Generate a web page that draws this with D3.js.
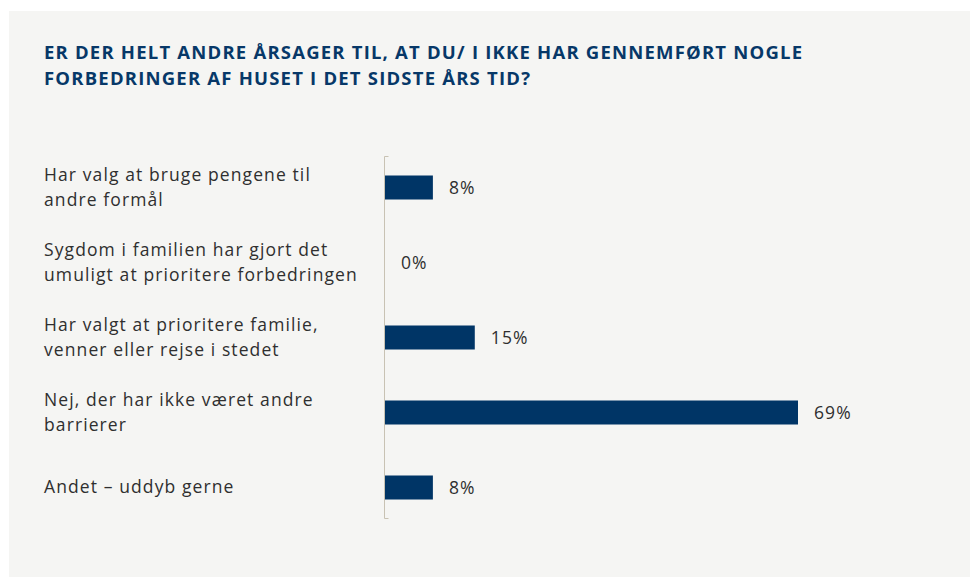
<!DOCTYPE html>
<html>
<head>
<meta charset="utf-8">
<script src="https://cdn.jsdelivr.net/npm/d3@7"></script>
<style>
  html, body { margin: 0; padding: 0; background: #ffffff; }
  svg { display: block; }
</style>
</head>
<body>
<svg id="chart" width="970" height="577"></svg>
<script>
const titleLines = [
  "ER DER HELT ANDRE ÅRSAGER TIL, AT DU/ I IKKE HAR GENNEMFØRT NOGLE",
  "FORBEDRINGER AF HUSET I DET SIDSTE ÅRS TID?"
];
const categories = [
  "Har valg at bruge pengene til|andre formål",
  "Sygdom i familien har gjort det|umuligt at prioritere forbedringen",
  "Har valgt at prioritere familie,|venner eller rejse i stedet",
  "Nej, der har ikke været andre|barrierer",
  "Andet – uddyb gerne"
];
const values = [8, 0, 15, 69, 8];
const valueLabels = ["8%", "0%", "15%", "69%", "8%"];

const svg = d3.select("#chart");
const W = 970, H = 577;

const navy = "#003566";
const textColor = "#2f2f2f";
const bodyFont = "'Open Sans', sans-serif";

// panel
svg.append("rect").attr("x", 9).attr("y", 11).attr("width", W - 9).attr("height", H - 11)
  .attr("fill", "#f5f5f3");

// title
const title = svg.append("text").attr("x", 44).attr("y", 59)
  .attr("fill", "#073868").attr("font-family", bodyFont)
  .attr("font-weight", 700).attr("font-size", 18.5).attr("letter-spacing", 1.2);
title.selectAll("tspan").data(titleLines).join("tspan")
  .attr("x", 44).attr("dy", (d, i) => i === 0 ? 0 : 26).text(d => d);

const x = d3.scaleLinear().domain([0, 69]).range([385, 798]);
const y = d3.scaleBand().domain(categories).range([150, 525]).paddingInner(0.68).paddingOuter(0.34);

// axis line
const axisTop = 156, axisBottom = 519;
svg.append("path")
  .attr("d", `M${x(0) + 3.5},${axisTop + 0.5}H${x(0) - 0.5}V${axisBottom - 0.5}H${x(0) + 3.5}`)
  .attr("fill", "none").attr("stroke", "#c8c2b3").attr("stroke-width", 1);

// bars
svg.append("g").selectAll("rect").data(values).join("rect")
  .attr("x", x(0))
  .attr("y", (d, i) => y(categories[i]))
  .attr("width", d => x(d) - x(0))
  .attr("height", y.bandwidth())
  .attr("fill", navy);

// value labels
svg.append("g").selectAll("text").data(values).join("text")
  .attr("x", d => x(d) + 16)
  .attr("y", (d, i) => y(categories[i]) + y.bandwidth() / 2 + 6.5)
  .attr("font-family", bodyFont).attr("font-size", 17.5).attr("letter-spacing", 1.1)
  .attr("fill", textColor)
  .text((d, i) => valueLabels[i]);

// category labels
const lab = svg.append("g").selectAll("text").data(categories).join("text")
  .attr("font-family", bodyFont).attr("font-size", 17.5).attr("letter-spacing", 1.1)
  .attr("fill", textColor);
lab.each(function(d) {
  const lines = d.split("|");
  const cy = y(d) + y.bandwidth() / 2;
  const first = cy - (lines.length - 1) * 12.5 + 5.5;
  d3.select(this).selectAll("tspan").data(lines).join("tspan")
    .attr("x", 44).attr("y", (l, i) => first + i * 25).text(l => l);
});
</script>
</body>
</html>
